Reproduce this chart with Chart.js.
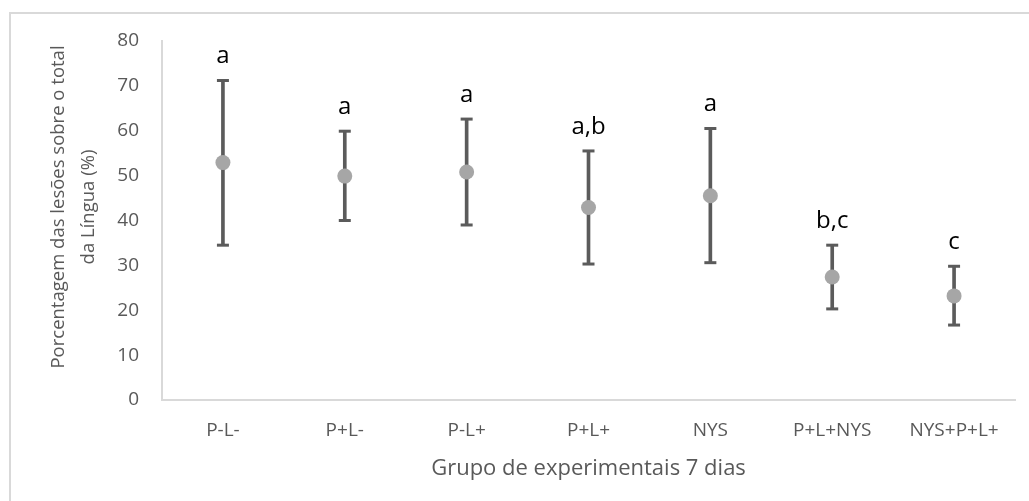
<!DOCTYPE html>
<html>
<head>
<meta charset="utf-8">
<script src="https://cdn.jsdelivr.net/npm/chart.js@4"></script>
<style>
  html, body { margin: 0; padding: 0; background: #fff; overflow: hidden; }
  #wrap { position: relative; width: 1029px; height: 501px; }
  #frame { position: absolute; left: 9px; top: 12px; width: 1040px; height: 520px;
           border: 2px solid #d9d9d9; box-sizing: border-box; }
  canvas { position: absolute; left: 0; top: 0; }
</style>
</head>
<body>
<div id="wrap">
  <div id="frame"></div>
  <canvas id="c" width="1029" height="501"></canvas>
</div>
<script>
// Experimental groups (7 days)
const groups = ['P-L-', 'P+L-', 'P-L+', 'P+L+', 'NYS', 'P+L+NYS', 'NYS+P+L+'];
// Mean percentage of tongue lesions
const means = [52.9, 49.9, 50.8, 42.9, 45.5, 27.4, 23.2];
// Error bar limits
const lowerBounds = [34.5, 40.0, 39.0, 30.3, 30.6, 20.3, 16.7];
const upperBounds = [71.2, 59.9, 62.6, 55.5, 60.5, 34.5, 29.8];
// Statistical grouping letters
const groupLetters = ['a', 'a', 'a', 'a,b', 'a', 'b,c', 'c'];
const yTicks = [0, 10, 20, 30, 40, 50, 60, 70, 80];

const yTitleLines = ['Porcentagem das lesões sobre o total', 'da Língua (%)'];
const xTitle = 'Grupo de experimentais 7 dias';

const barColor = '#5b5b5b';
const pointColor = '#a6a6a6';
const axisColor = '#d9d9d9';
const tickColor = '#595959';
const FONT = "'Open Sans', 'Liberation Sans', sans-serif";

// Letters above each error bar and the two-line y-axis title
const annotations = {
  id: 'annotations',
  afterDraw(chart) {
    const ctx = chart.ctx;
    const x = chart.scales.x, y = chart.scales.y;
    ctx.save();
    ctx.fillStyle = '#000';
    ctx.font = '24px ' + FONT;
    ctx.textAlign = 'center';
    ctx.textBaseline = 'middle';
    groupLetters.forEach((t, i) => {
      ctx.fillText(t, x.getPixelForValue(i), y.getPixelForValue(upperBounds[i]) - 24);
    });
    ctx.restore();

    ctx.save();
    ctx.fillStyle = tickColor;
    ctx.font = '18.5px ' + FONT;
    ctx.textAlign = 'center';
    ctx.textBaseline = 'middle';
    ctx.translate(0, 207);
    ctx.rotate(-Math.PI / 2);
    ctx.fillText(yTitleLines[0], 0, 59);
    ctx.fillText(yTitleLines[1], 0, 89);
    ctx.restore();
  }
};

new Chart(document.getElementById('c'), {
  data: {
    labels: groups,
    datasets: [
      {
        type: 'line',
        label: 'mean',
        data: means,
        showLine: false,
        pointRadius: 7.5,
        pointHoverRadius: 7.5,
        pointBackgroundColor: pointColor,
        pointBorderWidth: 0,
        borderColor: pointColor,
        order: 0
      },
      {
        type: 'line',
        label: 'upper cap',
        data: upperBounds,
        showLine: false,
        pointStyle: 'line',
        pointRadius: 6,
        pointBorderWidth: 3,
        pointBorderColor: barColor,
        borderColor: barColor,
        order: 1
      },
      {
        type: 'line',
        label: 'lower cap',
        data: lowerBounds,
        showLine: false,
        pointStyle: 'line',
        pointRadius: 6,
        pointBorderWidth: 3,
        pointBorderColor: barColor,
        borderColor: barColor,
        order: 1
      },
      {
        type: 'bar',
        label: 'range',
        data: lowerBounds.map((lo, i) => [lo, upperBounds[i]]),
        backgroundColor: barColor,
        borderWidth: 0,
        barThickness: 3,
        order: 2
      }
    ]
  },
  options: {
    responsive: false,
    animation: false,
    events: [],
    layout: { padding: { top: 41, right: 14, bottom: 0, left: 0 } },
    plugins: {
      legend: { display: false },
      tooltip: { enabled: false }
    },
    scales: {
      x: {
        type: 'category',
        offset: true,
        grid: { display: false, drawTicks: false },
        border: { display: true, color: axisColor, width: 2 },
        ticks: { color: tickColor, font: { family: FONT, size: 19 }, padding: 19, maxRotation: 0 },
        title: {
          display: true,
          text: xTitle,
          color: tickColor,
          font: { family: FONT, size: 22 },
          padding: { top: 0, bottom: 19 }
        },
        afterFit(s) { s.height = 101; }
      },
      y: {
        min: 0,
        max: 80,
        afterBuildTicks(s) { s.ticks = yTicks.map(v => ({ value: v })); },
        grid: { display: false, drawTicks: false },
        border: { display: true, color: axisColor, width: 2 },
        ticks: { color: tickColor, font: { family: FONT, size: 19 }, padding: 23 },
        afterFit(s) { s.width = 162; }
      }
    }
  },
  plugins: [annotations]
});
</script>
</body>
</html>
